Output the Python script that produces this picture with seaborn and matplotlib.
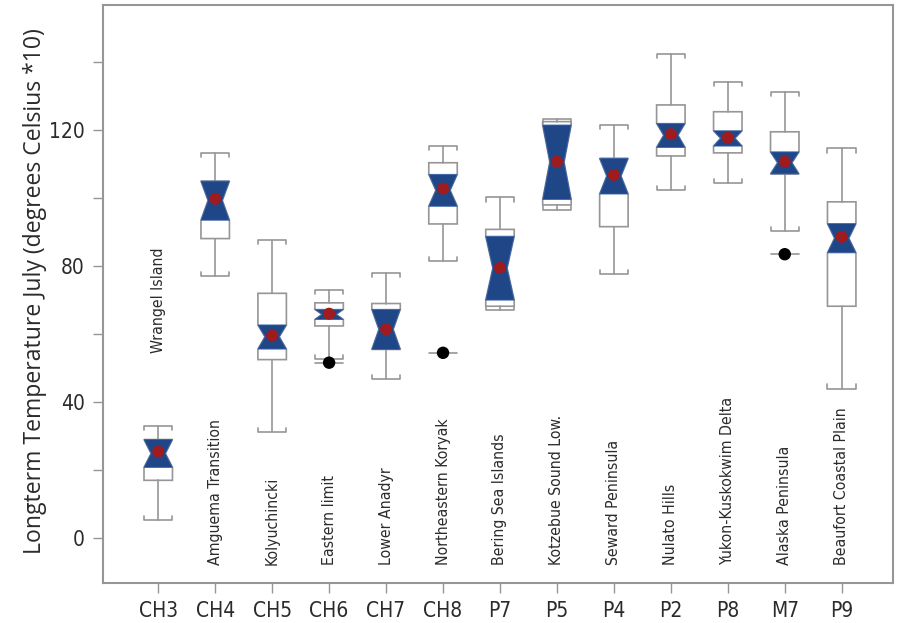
import numpy as np
import pandas as pd
import matplotlib
matplotlib.use("Agg")
import matplotlib.pyplot as plt
import seaborn as sns

# Ecoregion codes and names
codes = ["CH3", "CH4", "CH5", "CH6", "CH7", "CH8", "P7", "P5", "P4", "P2", "P8", "M7", "P9"]
regions = ["Wrangel Island", "Amguema Transition", "Kolyuchincki", "Eastern limit",
           "Lower Anadyr", "Northeastern Koryak", "Bering Sea Islands",
           "Kotzebue Sound Low.", "Seward Peninsula", "Nulato Hills",
           "Yukon-Kuskokwim Delta", "Alaska Peninsula", "Beaufort Coastal Plain"]

# Box summary statistics (July temperature, degrees Celsius * 10)
whislo = [5.3, 77.1, 31.2, 52.8, 46.7, 81.5, 67.2, 96.5, 77.6, 102.5, 104.3, 90.4, 44.0]
q1     = [17.0, 88.1, 52.5, 62.4, 55.5, 92.4, 68.2, 98.0, 91.6, 112.4, 113.3, 107.1, 68.2]
cilo   = [20.8, 93.5, 55.6, 64.3, 55.5, 97.6, 70.0, 99.6, 101.2, 114.9, 115.3, 107.1, 83.9]
median = [24.9, 99.3, 59.2, 65.8, 61.4, 102.3, 79.4, 110.6, 106.5, 118.5, 117.6, 110.4, 88.2]
cihi   = [29.0, 105.0, 62.7, 67.3, 67.3, 107.0, 88.8, 121.5, 111.7, 122.0, 119.8, 113.6, 92.5]
q3     = [29.0, 105.0, 72.0, 69.2, 69.0, 110.4, 90.8, 122.5, 111.7, 127.4, 125.4, 119.5, 98.9]
whishi = [33.0, 113.3, 87.8, 73.1, 78.0, 115.3, 100.2, 123.4, 121.5, 142.5, 134.2, 131.3, 114.6]
means  = [25.4, 99.8, 59.6, 66.0, 61.4, 102.8, 79.5, 110.7, 106.8, 118.8, 117.8, 110.7, 88.6]

# Outliers
outlier_codes = ["CH6", "CH8", "M7"]
outlier_values = [51.6, 54.5, 83.5]

GRAY = "#969696"
BLUE = "#1f4787"
RED = "#9e1b20"
TEXT = "#2b2b2b"
COND = dict(family="DejaVu Sans", stretch="condensed")

sns.set_theme(style="ticks")
plt.rcParams["font.family"] = ["Open Sans", "DejaVu Sans"]

fig = plt.figure(figsize=(9.05, 6.23), dpi=100)
ax = fig.add_axes([0.1138, 0.0642, 0.8729, 0.9278])

pos = np.arange(len(codes))
width = 0.5

stats = []
for i in range(len(codes)):
    stats.append(dict(label=codes[i], whislo=whislo[i], q1=q1[i], med=median[i],
                      q3=q3[i], whishi=whishi[i], cilo=cilo[i], cihi=cihi[i],
                      mean=means[i], fliers=[]))

ax.bxp(stats, positions=pos, widths=width, shownotches=True, patch_artist=True,
       showcaps=False, showfliers=False, manage_ticks=False,
       boxprops=dict(facecolor="white", edgecolor=GRAY, linewidth=1.2),
       whiskerprops=dict(color=GRAY, linewidth=1.2),
       medianprops=dict(linewidth=0))

# Blue bow-tie over the notch (confidence interval of the median)
for i, x in enumerate(pos):
    xs = [x - width / 2, x + width / 2, x + width / 4, x + width / 2, x - width / 2, x - width / 4]
    ys = [cilo[i], cilo[i], median[i], cihi[i], cihi[i], median[i]]
    ax.fill(xs, ys, facecolor=BLUE, edgecolor="#3a63a8", linewidth=0.6, zorder=3)

# Whisker caps with small hooks turned toward the box
hook = 1.2
for i, x in enumerate(pos):
    l, r = x - width / 2, x + width / 2
    ax.plot([l, l, r, r], [whishi[i] - hook, whishi[i], whishi[i], whishi[i] - hook],
            color=GRAY, linewidth=1.2, zorder=2)
    ax.plot([l, l, r, r], [whislo[i] + hook, whislo[i], whislo[i], whislo[i] + hook],
            color=GRAY, linewidth=1.2, zorder=2)

# Outliers: short dash with a black dot
out_x = [codes.index(c) for c in outlier_codes]
for x, v in zip(out_x, outlier_values):
    ax.plot([x - width / 2, x + width / 2], [v, v], color=GRAY, linewidth=1.2, zorder=2)

df_out = pd.DataFrame({"x": out_x, "y": outlier_values})
sns.scatterplot(data=df_out, x="x", y="y", ax=ax, color="black", s=80,
                edgecolor="none", zorder=5, legend=False)

df_mean = pd.DataFrame({"x": pos, "y": means})
sns.scatterplot(data=df_mean, x="x", y="y", ax=ax, color=RED, s=75,
                edgecolor="none", zorder=5, legend=False)

# Region names
ax.text(0, 70, regions[0], rotation=90, ha="center", va="center",
        fontsize=11.3, color=TEXT, **COND)
for i in range(1, len(regions)):
    ax.text(pos[i], -8, regions[i], rotation=90, ha="center", va="bottom",
            fontsize=11.3, color=TEXT, **COND)

ax.set_xlim(-0.97, 12.9)
ax.set_ylim(-13.2, 156.8)
ax.set_xticks(pos)
ax.set_xticklabels(codes, fontsize=15, color=TEXT, **COND)
yt = list(range(0, 160, 20))
ax.set_yticks(yt)
ax.set_yticklabels([str(v) if v % 40 == 0 else "" for v in yt],
                   fontsize=15, color=TEXT, **COND)
ax.tick_params(axis="both", direction="out", length=7, width=1, color=GRAY, pad=6)
ax.set_xlabel("")
ax.set_ylabel("Longterm Temperature July (degrees Celsius *10)", fontsize=16.6,
              color=TEXT, family=["Open Sans", "DejaVu Sans"])
ax.yaxis.set_label_coords(-0.071, 0.505)

for s in ax.spines.values():
    s.set_color(GRAY)
    s.set_linewidth(1.5)

fig.savefig("out.png", dpi=100)
